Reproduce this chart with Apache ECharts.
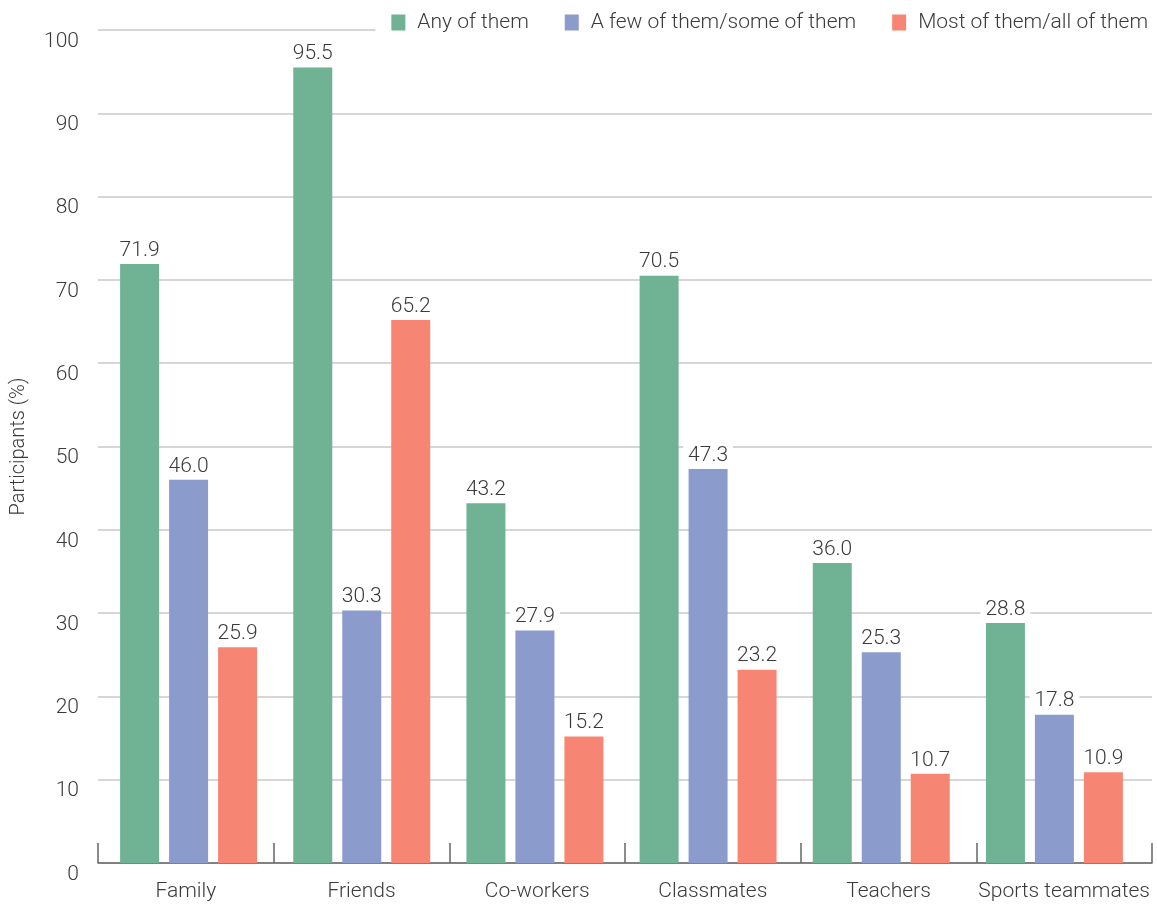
<!DOCTYPE html>
<html>
<head>
<meta charset="utf-8">
<script src="https://cdn.jsdelivr.net/npm/echarts@6/dist/echarts.min.js"></script>
<style>html,body{margin:0;padding:0;background:#fff}#c{width:1157px;height:904px}</style>
</head>
<body>
<div id="c"></div>
<script>
const categories = ['Family', 'Friends', 'Co-workers', 'Classmates', 'Teachers', 'Sports teammates'];
const seriesNames = ['Any of them', 'A few of them/some of them', 'Most of them/all of them'];
const anyOfThem = [71.9, 95.5, 43.2, 70.5, 36.0, 28.8];
const fewOrSome = [46.0, 30.3, 27.9, 47.3, 25.3, 17.8];
const mostOrAll = [25.9, 65.2, 15.2, 23.2, 10.7, 10.9];
const yTicks = [0, 10, 20, 30, 40, 50, 60, 70, 80, 90, 100];
const yAxisName = 'Participants (%)';

const colors = ['#6fb294', '#8a9bcc', '#f78574'];
const FONT = 'Roboto';
const FW = 300;
const FS = 21;
const TXT = '#3a3a3a';

const chart = echarts.init(document.getElementById('c'));
const seriesData = [anyOfThem, fewOrSome, mostOrAll];
const yMin = yTicks[0], yMax = yTicks[yTicks.length - 1];
chart.setOption({
  animation: false,
  textStyle: { fontFamily: FONT, fontWeight: FW },
  grid: [
    { left: 98, right: 5, top: 30, bottom: 41 },
    { left: 102, right: 16, top: 30, bottom: 41 }
  ],
  legend: {
    data: seriesNames,
    right: 0, top: 0,
    padding: [12, 9, 6, 16],
    backgroundColor: '#fff',
    itemWidth: 14, itemHeight: 16, itemGap: 36,
    icon: 'rect',
    textStyle: { fontFamily: FONT, fontWeight: FW, fontSize: FS, color: TXT, padding: [0, 0, 0, 7] }
  },
  xAxis: [{
    type: 'category',
    gridIndex: 0,
    data: categories,
    axisLine: { lineStyle: { color: '#666', width: 1.5 } },
    axisTick: { show: true, inside: true, length: 20, lineStyle: { color: '#666', width: 1.5 } },
    axisLabel: { interval: 0, fontFamily: FONT, fontWeight: FW, fontSize: FS, color: TXT, margin: 18 }
  }, {
    type: 'category',
    gridIndex: 1,
    data: categories,
    show: false
  }],
  yAxis: [{
    type: 'value',
    gridIndex: 0,
    min: yMin, max: yMax, interval: 10,
    name: yAxisName,
    nameLocation: 'middle',
    nameGap: 69,
    nameTextStyle: { fontFamily: FONT, fontWeight: FW, fontSize: 20, color: TXT },
    axisLine: { show: false },
    axisTick: { show: false },
    axisLabel: { fontFamily: FONT, fontWeight: FW, fontSize: FS, color: TXT, margin: 19, verticalAlign: 'top', padding: [1, 0, 0, 0] },
    splitLine: { lineStyle: { color: '#c8c8c8', width: 1.5 } }
  }, {
    type: 'value',
    gridIndex: 1,
    min: yMin, max: yMax, interval: 10,
    show: false,
    splitLine: { show: false }
  }],
  series: seriesNames.map((n, i) => ({
    name: n,
    type: 'bar',
    xAxisIndex: 1,
    yAxisIndex: 1,
    data: seriesData[i],
    barWidth: 39,
    barGap: '25.6%',
    itemStyle: { color: colors[i] },
    label: {
      show: true,
      position: 'top',
      distance: 3,
      formatter: p => p.value.toFixed(1),
      fontFamily: FONT, fontWeight: FW, fontSize: FS, color: TXT,
      backgroundColor: '#fff',
      padding: [0, 5, 0, 5]
    }
  }))
});
</script>
</body>
</html>
